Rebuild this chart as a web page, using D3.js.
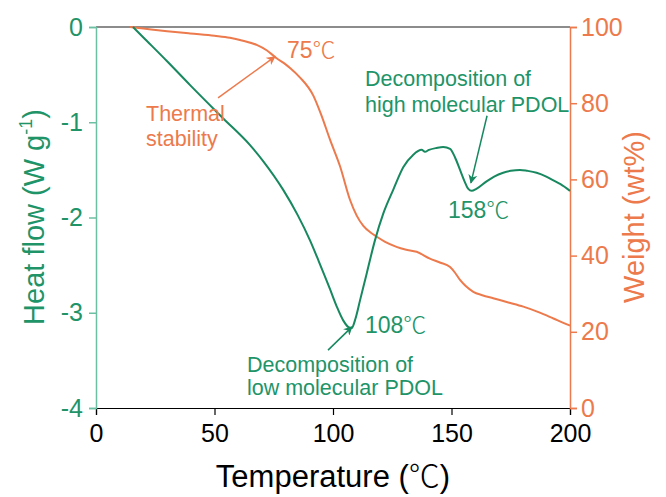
<!DOCTYPE html>
<html><head><meta charset="utf-8">
<script src="https://cdn.jsdelivr.net/npm/d3@7"></script>
<style>body{margin:0;background:#fff}svg{display:block}</style>
</head><body>
<svg id="c" width="666" height="497"></svg>
<script>
const heatTemp = [15.6,20,30,39.7,53.7,65,70.6,79,85,90.3,94,98.7,101.5,104.3,106.5,107.9,109.5,111.4,114.2,117.7,121.2,125.4,129.7,133.9,137.4,138.8,140.5,143.7,146.5,149.4,151.5,153.6,155.5,157.1,158.5,160.5,164.8,168,171.8,175,178.9,182,185.9,190,193,196,200];
const heatFlow = [0,-0.11,-0.36,-0.61,-0.96,-1.24,-1.41,-1.71,-1.97,-2.24,-2.46,-2.75,-2.93,-3.08,-3.15,-3.16,-3.06,-2.87,-2.59,-2.24,-1.96,-1.71,-1.47,-1.34,-1.29,-1.31,-1.29,-1.27,-1.26,-1.28,-1.37,-1.50,-1.62,-1.70,-1.72,-1.70,-1.62,-1.57,-1.53,-1.51,-1.50,-1.51,-1.53,-1.57,-1.61,-1.65,-1.72];
const weightTemp = [14.3,20,30,39.7,50,56.5,62,67.8,72,76.2,80,82,86,91.7,95,98.7,103,107.2,110,112.8,116,118.4,122,126.8,130.5,135.3,140.9,145.1,149.4,151.5,153.6,156,159.2,163,167.6,174,180.3,187,193,199.3,200];
const weight = [100,99.6,98.9,98.3,97.7,97.2,96.4,95.3,93.9,91.8,90.2,89.2,86.8,82,77,70.5,63.4,54.6,50.5,47.8,46,45,43.6,42.3,41.6,41,39.2,38.2,37,35.5,33.6,32,30.5,29.6,28.8,27.7,26.6,25.1,23.5,21.8,21.6];
const xTicks = [0,50,100,150,200];
const yLeftTicks = [0,-1,-2,-3,-4];
const yRightTicks = [0,20,40,60,80,100];

const GREEN = "#17885f", GREEN_T = "#1e9468", GREEN_AX = "#6cbfa2", ORANGE = "#ec7a4c";
const FONT = "'Liberation Sans', Arial, sans-serif";
const CJK = "'Noto Sans CJK SC', sans-serif";
const L=96, R=570, T=27, B=408;
const svg = d3.select("#c");
const x = d3.scaleLinear().domain([0,200]).range([L,R]);
const yH = d3.scaleLinear().domain([-4,0]).range([B,T]);
const yW = d3.scaleLinear().domain([0,100]).range([B,T]);

svg.append("line").attr("x1",L).attr("x2",R).attr("y1",T).attr("y2",T).attr("stroke","#666").attr("stroke-width",1.5);

const gx = svg.append("g").attr("transform",`translate(0,${B})`);
gx.call(d3.axisBottom(x).tickValues(d3.range(0,201,25)).tickSize(5).tickFormat(""));
gx.call(d3.axisBottom(x).tickValues(xTicks).tickSize(7).tickFormat(d=>String(d)));
gx.selectAll("path,line").attr("stroke","#000").attr("stroke-width",1.2);
gx.selectAll("text").attr("font-family",FONT).attr("font-size",25).attr("fill","#000").attr("dy","0.95em");

const gl = svg.append("g").attr("transform",`translate(${L},0)`);
gl.call(d3.axisLeft(yH).tickValues(d3.range(-4,0.01,0.5)).tickSize(4).tickFormat(""));
gl.call(d3.axisLeft(yH).tickValues(yLeftTicks).tickSize(7).tickFormat(d=>String(d)));
gl.selectAll("path,line").attr("stroke",GREEN_AX).attr("stroke-width",1.5);
gl.selectAll("text").attr("font-family",FONT).attr("font-size",25).attr("fill",GREEN_T).attr("x",-13);

const gr = svg.append("g").attr("transform",`translate(${R},0)`);
gr.call(d3.axisRight(yW).tickValues(d3.range(0,101,10)).tickSize(4).tickFormat(""));
gr.call(d3.axisRight(yW).tickValues(yRightTicks).tickSize(7).tickFormat(d=>String(d)));
gr.selectAll("path,line").attr("stroke",ORANGE).attr("stroke-width",1.5);
gr.selectAll("text").attr("font-family",FONT).attr("font-size",25).attr("fill",ORANGE).attr("x",11);

svg.append("path").datum(weightTemp.map((t,i)=>[t,weight[i]]))
  .attr("fill","none").attr("stroke",ORANGE).attr("stroke-width",2)
  .attr("d",d3.line().x(d=>x(d[0])).y(d=>yW(d[1])).curve(d3.curveMonotoneX));
svg.append("path").datum(heatTemp.map((t,i)=>[t,heatFlow[i]]))
  .attr("fill","none").attr("stroke",GREEN).attr("stroke-width",2)
  .attr("d",d3.line().x(d=>x(d[0])).y(d=>yH(d[1])).curve(d3.curveMonotoneX));

const xt = svg.append("text").attr("x",333).attr("y",487).attr("text-anchor","middle")
  .attr("font-family",FONT).attr("font-size",31).attr("fill","#000");
xt.append("tspan").text("Temperature (");
xt.append("tspan").attr("font-family",CJK).attr("font-weight",300).text("℃");
xt.append("tspan").text(")");
const ht = svg.append("text").attr("transform",`translate(44,217) rotate(-90)`).attr("text-anchor","middle")
  .attr("font-family",FONT).attr("font-size",29).attr("fill",GREEN_T);
ht.append("tspan").text("Heat flow (W g");
ht.append("tspan").attr("font-size",18).attr("dy",-12).text("-1");
ht.append("tspan").attr("dy",12).text(")");
svg.append("text").attr("transform",`translate(644,217) rotate(-90)`).attr("text-anchor","middle")
  .attr("font-family",FONT).attr("font-size",29).attr("fill",ORANGE).text("Weight (wt%)");

const defs = svg.append("defs");
[["ag",GREEN],["ao",ORANGE]].forEach(([id,c])=>{
  defs.append("marker").attr("id",id).attr("viewBox","0 0 10 10").attr("refX",9).attr("refY",5)
    .attr("markerWidth",6).attr("markerHeight",6).attr("orient","auto-start-reverse")
    .append("path").attr("d","M0,0 L10,5 L0,10 L3,5 Z").attr("fill",c);
});
function arrow(x1,y1,x2,y2,c,id){
  svg.append("line").attr("x1",x(x1)).attr("y1",yW(y1)).attr("x2",x(x2)).attr("y2",yW(y2))
    .attr("stroke",c).attr("stroke-width",1.5).attr("marker-end",`url(#${id})`);
}
function label(t,w,s,c,size){
  svg.append("text").attr("x",x(t)).attr("y",yW(w)).attr("font-family",FONT).attr("font-size",size).attr("fill",c).text(s);
}
function tempLabel(t,w,num,c,size){
  const e = svg.append("text").attr("x",x(t)).attr("y",yW(w)).attr("font-family",FONT).attr("font-size",size).attr("fill",c);
  e.append("tspan").text(num);
  e.append("tspan").attr("font-family",CJK).attr("font-weight",300).text("℃");
}
arrow(51.5,81.4,75.5,92.2,ORANGE,"ao");
label(21.1,75.3,"Thermal",ORANGE,21.5);
label(21.1,68.8,"stability",ORANGE,21.5);
tempLabel(80.6,91.9,"75",ORANGE,23);

label(113.5,84.5,"Decomposition of",GREEN_T,21.5);
label(113.5,77.7,"high molecular PDOL",GREEN_T,21.5);
arrow(165,76.7,158.2,59.1,GREEN,"ag");
tempLabel(148.5,49.9,"158",GREEN_T,23);

tempLabel(113.5,19.6,"108",GREEN_T,23);
arrow(97.9,15.2,108,21.3,GREEN,"ag");
label(63.7,9.4,"Decomposition of",GREEN_T,21.5);
label(63.7,3.4,"low molecular PDOL",GREEN_T,21.5);
</script>
</body></html>
